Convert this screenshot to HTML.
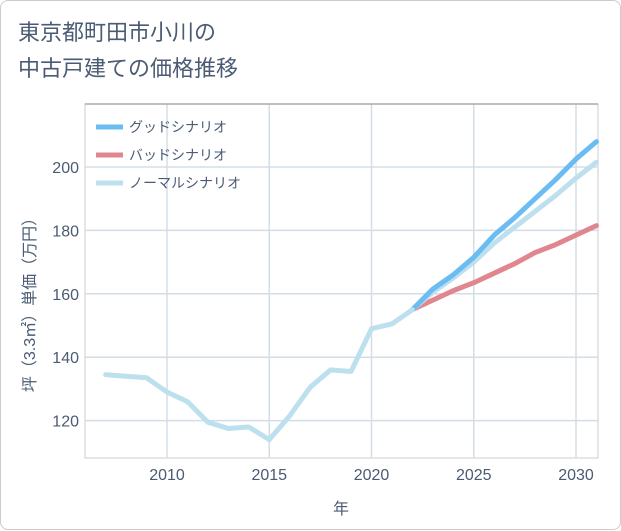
<!DOCTYPE html>
<html><head><meta charset="utf-8"><style>
body{margin:0;background:#fff;font-family:"Liberation Sans","Noto Sans CJK JP",sans-serif;}
.card{position:absolute;left:0;top:0;width:619px;height:528px;border:1px solid #ccc;border-radius:8px;background:#fff;}
.title{position:absolute;left:17px;top:14px;font-size:22px;line-height:36px;color:#4a5b73;}
</style></head><body>
<div class="card">
<div class="title">東京都町田市小川の<br>中古戸建ての価格推移</div>
<svg id="c" width="621" height="530" style="position:absolute;left:0;top:0"></svg>
</div>
<script>
const years=[2007,2008,2009,2010,2011,2012,2013,2014,2015,2016,2017,2018,2019,2020,2021,2022];
const hist=[134.5,134,133.5,129,126,119.5,117.5,118,114,121.5,130.5,136,135.5,149,150.5,155];
const fYears=[2022,2023,2024,2025,2026,2027,2028,2029,2030,2031];
const good=[155,161.5,166,171.5,178.5,184,190,196,202.5,208];
const bad=[155,158,161,163.5,166.5,169.5,173,175.5,178.5,181.5];
const normal=[155,160.5,165,170,176,181,186,191,196.5,201.5];
const xTicks=[2010,2015,2020,2025,2030];
const yTicks=[120,140,160,180,200];
const L=84,R=597,T=103,B=457;
const TC='#4a5b73';
const x=v=>166+(v-2010)*20.45;
const y=v=>166+(200-v)*3.17;
const s=document.getElementById('c');const NS='http://www.w3.org/2000/svg';
function el(t,a,p){const e=document.createElementNS(NS,t);for(const k in a)e.setAttribute(k,a[k]);(p||s).appendChild(e);return e;}
let e=el('rect',{x:L,y:T,width:R-L,height:B-T,fill:'#fff',stroke:'#ccc'});

xTicks.forEach(t=>{el('line',{x1:x(t),x2:x(t),y1:T,y2:B,stroke:'#d3dde8','stroke-width':1.5});
const tx=el('text',{x:x(t),y:B+22,'text-anchor':'middle','font-size':16,fill:TC});tx.textContent=t;
});
yTicks.forEach(t=>{el('line',{x1:L,x2:R,y1:y(t),y2:y(t),stroke:'#d3dde8','stroke-width':1.5});
const tx=el('text',{x:L-6,y:y(t)+6,'text-anchor':'end','font-size':16,fill:TC});tx.textContent=t;
});
el('line',{x1:L,x2:R,y1:T,y2:T,stroke:'#aaa','stroke-width':1.5});
function line(xs,vs,c,n){const p=el('polyline',{points:xs.map((v,i)=>x(v)+','+y(vs[i])).join(' '),fill:'none',stroke:c,'stroke-width':5,'stroke-linejoin':'round','stroke-linecap':'round'});
}
line(fYears,bad,'#e0868f','bad-scenario-line');
line(fYears,normal,'#bde0ee','normal-scenario-line');
line(fYears,good,'#6bbcf2','good-scenario-line');
line(years,hist,'#bde0ee','historical-line');
const leg=[['グッドシナリオ','#6bbcf2'],['バッドシナリオ','#e0868f'],['ノーマルシナリオ','#bde0ee']];
leg.forEach((g,i)=>{const yy=126+i*28;
const ln=el('line',{x1:95,x2:122,y1:yy,y2:yy,stroke:g[1],'stroke-width':5});

const t=el('text',{x:128,y:yy+5,'font-size':14,fill:TC});t.textContent=g[0];
});
let xt=el('text',{x:340,y:513,'text-anchor':'middle','font-size':16,fill:TC});xt.textContent='年';

let yt=el('text',{x:0,y:0,'text-anchor':'middle','font-size':16,fill:TC,transform:'translate(34,300) rotate(-90)'});yt.textContent='坪（3.3㎡）単価（万円）';

</script>
</body></html>
